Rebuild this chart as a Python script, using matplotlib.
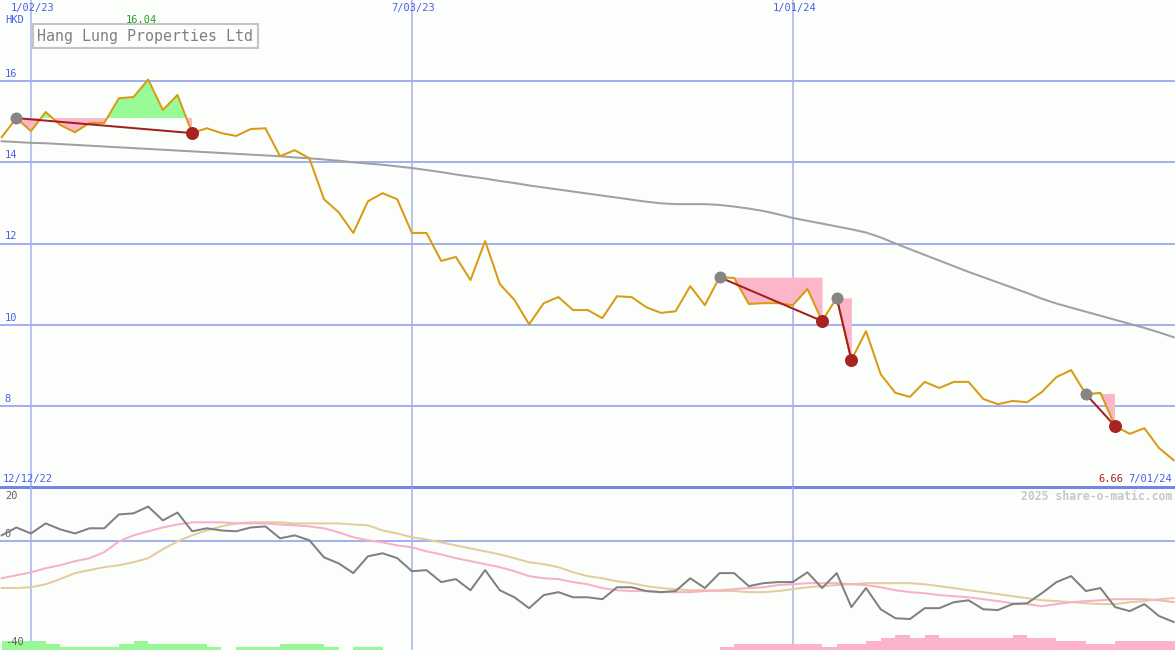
"""
Hang Lung Properties Ltd - weekly price chart with trend patterns and oscillator panel
"""

import numpy as np
import matplotlib
matplotlib.use('Agg')
import matplotlib.pyplot as plt
import matplotlib.transforms as mtransforms

# week index: 0 = 1/02/23, 26 = 7/03/23, 52 = 1/01/24, 78 = 7/01/24
weeks = np.arange(-2, 79)

price = [14.62, 15.09, 14.77, 15.24, 14.92, 14.74, 14.97, 14.97, 15.58, 15.61,
         16.04, 15.29, 15.66, 14.72, 14.84, 14.72, 14.65, 14.82, 14.84, 14.15,
         14.30, 14.10, 13.09, 12.77, 12.26, 13.04, 13.24, 13.09, 12.26, 12.26,
         11.57, 11.67, 11.10, 12.06, 11.00, 10.61, 10.01, 10.53, 10.68, 10.36,
         10.36, 10.16, 10.70, 10.68, 10.43, 10.29, 10.33, 10.95, 10.48, 11.17,
         11.15, 10.51, 10.53, 10.53, 10.48, 10.88, 10.09, 10.66, 9.13, 9.84,
         8.78, 8.32, 8.22, 8.59, 8.44, 8.59, 8.59, 8.17, 8.04, 8.12,
         8.09, 8.34, 8.71, 8.88, 8.29, 8.32, 7.50, 7.31, 7.45, 6.96,
         6.66]

moving_avg = [14.52, 14.50, 14.48, 14.47, 14.45, 14.43, 14.41, 14.39, 14.37, 14.35,
              14.33, 14.31, 14.29, 14.27, 14.25, 14.23, 14.21, 14.19, 14.17, 14.15,
              14.12, 14.10, 14.07, 14.04, 14.00, 13.97, 13.94, 13.90, 13.86, 13.81,
              13.76, 13.70, 13.65, 13.60, 13.54, 13.49, 13.43, 13.38, 13.33, 13.28,
              13.23, 13.18, 13.13, 13.08, 13.03, 12.99, 12.97, 12.97, 12.97, 12.95,
              12.91, 12.86, 12.80, 12.72, 12.63, 12.56, 12.49, 12.42, 12.35, 12.27,
              12.15, 12.00, 11.86, 11.72, 11.58, 11.44, 11.30, 11.17, 11.04, 10.91,
              10.78, 10.64, 10.52, 10.42, 10.32, 10.22, 10.12, 10.02, 9.92, 9.81,
              9.69]

# trend patterns: start week, end week
pattern_start = [-1, 47, 55, 72]
pattern_end = [11, 54, 56, 74]

# lower panel
osc = [2.2, 5.1, 2.9, 6.6, 4.4, 2.9, 4.8, 4.8, 9.9, 10.3,
       12.8, 7.7, 10.6, 3.7, 4.8, 4.0, 3.7, 5.1, 5.5, 1.1,
       2.2, 0.4, -5.9, -8.1, -11.7, -5.5, -4.4, -6.2, -11.0, -10.6,
       -15.0, -13.9, -18.0, -10.6, -18.0, -20.6, -24.6, -19.8, -18.7, -20.6,
       -20.6, -21.3, -16.9, -16.9, -18.3, -18.7, -18.3, -13.6, -17.2, -11.7,
       -11.7, -16.5, -15.4, -15.0, -15.0, -11.4, -17.2, -11.7, -24.2, -17.2,
       -25.0, -28.3, -28.6, -24.6, -24.6, -22.4, -21.7, -25.0, -25.3, -23.1,
       -22.8, -19.1, -15.0, -12.8, -18.3, -17.2, -24.2, -25.7, -23.1, -27.5,
       -29.7]

osc_fast = [-13.6, -12.5, -11.4, -9.9, -8.8, -7.3, -6.2, -4.0, 0.0, 2.2,
            3.7, 5.1, 6.2, 7.0, 7.0, 7.0, 6.6, 6.6, 6.6, 6.2,
            5.9, 5.5, 4.8, 3.3, 1.5, 0.4, -0.4, -1.5, -2.2, -3.7,
            -4.8, -6.2, -7.3, -8.4, -9.5, -11.0, -12.8, -13.6, -13.9, -15.0,
            -15.8, -17.2, -18.0, -18.3, -18.3, -18.7, -18.7, -18.7, -18.3, -18.0,
            -17.6, -17.2, -16.9, -16.1, -15.8, -15.4, -15.4, -15.4, -15.8, -16.1,
            -16.9, -18.0, -18.7, -19.1, -19.8, -20.2, -20.6, -21.3, -22.0, -22.8,
            -23.1, -23.9, -23.1, -22.4, -22.0, -21.7, -21.3, -21.3, -21.3, -21.7,
            -22.4]

osc_slow = [-17.2, -17.2, -16.9, -15.8, -13.9, -11.7, -10.6, -9.5, -8.8, -7.7,
            -6.2, -2.9, 0.0, 2.2, 4.0, 5.5, 6.6, 7.0, 7.0, 7.0,
            6.6, 6.6, 6.6, 6.6, 6.2, 5.9, 4.0, 2.9, 1.5, 0.7,
            -0.4, -1.5, -2.6, -3.7, -4.8, -6.2, -7.7, -8.4, -9.5, -11.4,
            -12.8, -13.6, -14.7, -15.4, -16.5, -17.2, -17.6, -18.0, -18.0, -18.3,
            -18.3, -18.7, -18.7, -18.3, -17.6, -16.9, -16.5, -16.1, -15.8, -15.4,
            -15.4, -15.4, -15.4, -15.8, -16.5, -17.2, -18.0, -18.7, -19.4, -20.2,
            -20.9, -21.7, -22.0, -22.4, -22.8, -23.1, -23.1, -22.4, -22.0, -21.3,
            -20.9]

hist = [3.3, 3.3, 3.3, 2.2, 1.1, 1.1, 1.1, 1.1, 2.2, 3.3,
        2.2, 2.2, 2.2, 2.2, 1.1, 0, 1.1, 1.1, 1.1, 2.2,
        2.2, 2.2, 1.1, 0, 1.1, 1.1, 0, 0, 0, 0,
        0, 0, 0, 0, 0, 0, 0, 0, 0, 0,
        0, 0, 0, 0, 0, 0, 0, 0, 0, -1.1,
        -2.2, -2.2, -2.2, -2.2, -2.2, -2.2, -1.1, -2.2, -2.2, -3.3,
        -4.4, -5.5, -4.4, -5.5, -4.4, -4.4, -4.4, -4.4, -4.4, -5.5,
        -4.4, -4.4, -3.3, -3.3, -2.2, -2.2, -3.3, -3.3, -3.3, -3.3,
        -3.3]

date_weeks = [0, 26, 52]
date_labels = ['1/02/23', '7/03/23', '1/01/24']
price_ticks = [16, 14, 12, 10, 8]

for s in (price, moving_avg, osc, osc_fast, osc_slow, hist):
    assert len(s) == len(weeks)

price = np.array(price)
hist = np.array(hist)

BG = '#fbfefb'
GRID = '#a4b0f0'
LABEL = '#4c5fe6'
MONO = 'DejaVu Sans Mono'
PX = 0.72  # one pixel in points at dpi 100

fig = plt.figure(figsize=(11.75, 6.5), dpi=100)
fig.patch.set_facecolor(BG)
ax = fig.add_axes([0, 163 / 650, 1, 487 / 650])
ax2 = fig.add_axes([0, 0, 1, 163 / 650])
xlim = (-2.116, 78.09)
for a in (ax, ax2):
    a.set_xlim(*xlim)
    a.set_axis_off()
ax.set_ylim(6, 18)
ax2.set_ylim(-40, 20)

# grid
for w in date_weeks:
    ax.axvline(w, color=GRID, lw=1.5 * PX, zorder=1)
    ax2.axvline(w, color=GRID, lw=1.5 * PX, zorder=1)
for p in price_ticks:
    ax.axhline(p, color=GRID, lw=2 * PX, zorder=1)
ax2.axhline(0, color=GRID, lw=2 * PX, zorder=1)
ax.axhline(6, color='#7384ea', lw=3 * PX, zorder=1, clip_on=False)

# trend pattern fills
for s, e in zip(pattern_start, pattern_end):
    sel = (weeks >= s) & (weeks <= e)
    level = price[weeks == s][0]
    ax.fill_between(weeks[sel], level, price[sel], where=price[sel] >= level,
                    color='#98fb98', lw=0, interpolate=True, zorder=2)
    ax.fill_between(weeks[sel], level, price[sel], where=price[sel] <= level,
                    color='#fbb6c9', lw=0, interpolate=True, zorder=2)

ax.plot(weeks, moving_avg, color='#a0a0a0', lw=2 * PX, zorder=3)
ax.plot(weeks, price, color='#da9a12', lw=2 * PX, zorder=4)

for s, e in zip(pattern_start, pattern_end):
    p0 = price[weeks == s][0]
    p1 = price[weeks == e][0]
    ax.plot([s, e], [p0, p1], color='#a31f1f', lw=2 * PX, zorder=5)
    ax.plot(s, p0, 'o', ms=12 * PX, color='#858585', mec='none', zorder=6)
    ax.plot(e, p1, 'o', ms=13 * PX, color='#a82222', mec='none', zorder=6)

# lower panel
colors = ['#98f898' if v > 0 else '#fbb4c9' for v in hist]
ax2.bar(weeks, np.abs(hist), width=1, align='edge', bottom=-40,
        color=colors, lw=0, zorder=2)
ax2.plot(weeks, osc_slow, color='#e3cd9c', lw=2 * PX, zorder=3)
ax2.plot(weeks, osc_fast, color='#f8b0c8', lw=2 * PX, zorder=3)
ax2.plot(weeks, osc, color='#808080', lw=2 * PX, zorder=4)

# labels
top = mtransforms.blended_transform_factory(ax.transData, ax.transAxes)
left = mtransforms.blended_transform_factory(ax.transAxes, ax.transData)
for w, lab in zip(date_weeks, date_labels):
    ax.text(w + 0.1, 0.984, lab, transform=top, ha='center', va='center',
            color=LABEL, fontsize=7.5, family=MONO)
for p in price_ticks:
    ax.annotate(str(p), xy=(0, p), xycoords=left, xytext=(3.5, 1.5),
                textcoords='offset points', va='bottom', ha='left',
                color=LABEL, fontsize=7.5, family=MONO)
ax.text(5 / 1175, 1 - 20 / 487, 'HKD', transform=ax.transAxes, ha='left',
        va='center', color=LABEL, fontsize=7.5, family=MONO)

peak = int(np.argmax(price))
ax.text(weeks[peak] - 0.45, 1 - 20 / 487, f'{price[peak]:.2f}', transform=top,
        ha='center', va='center', color='#22a022', fontsize=7.5, family=MONO)

ax.text(3 / 1175, 8 / 487, '12/12/22', transform=ax.transAxes, ha='left',
        va='center', color=LABEL, fontsize=7.5, family=MONO)
ax.text(1172 / 1175, 8 / 487, '7/01/24', transform=ax.transAxes, ha='right',
        va='center', color=LABEL, fontsize=7.5, family=MONO)
ax.text(1123 / 1175, 8 / 487, f'{price[-1]:.2f}', transform=ax.transAxes,
        ha='right', va='center', color='#a82222', fontsize=7.5, family=MONO)

fig.text(37 / 1175, 1 - 36 / 650, 'Hang Lung Properties Ltd', ha='left',
         va='center', color='#808080', fontsize=10.8, family=MONO,
         bbox=dict(boxstyle='square,pad=0.3', fc=BG, ec='#c4c4c4', lw=1.5))

ax2.text(1172 / 1175, 1 - 9 / 163, '2025 share-o-matic.com',
         transform=ax2.transAxes, ha='right', va='center', color='#c8c8c8',
         fontsize=8.3, family=MONO, fontweight='bold')
ax2.text(5 / 1175, 1 - 9 / 163, '20', transform=ax2.transAxes, ha='left',
         va='center', color='#606060', fontsize=7.5, family=MONO)
ax2.annotate('0', xy=(0, 0), xycoords=mtransforms.blended_transform_factory(
    ax2.transAxes, ax2.transData), xytext=(3.5, 1.5), textcoords='offset points',
    ha='left', va='bottom', color='#606060', fontsize=7.5, family=MONO)
ax2.text(5 / 1175, 8 / 163, '-40', transform=ax2.transAxes, ha='left',
         va='center', color='#606060', fontsize=7.5, family=MONO)

plt.savefig('out.png', dpi=100, facecolor=fig.get_facecolor())
plt.close()
